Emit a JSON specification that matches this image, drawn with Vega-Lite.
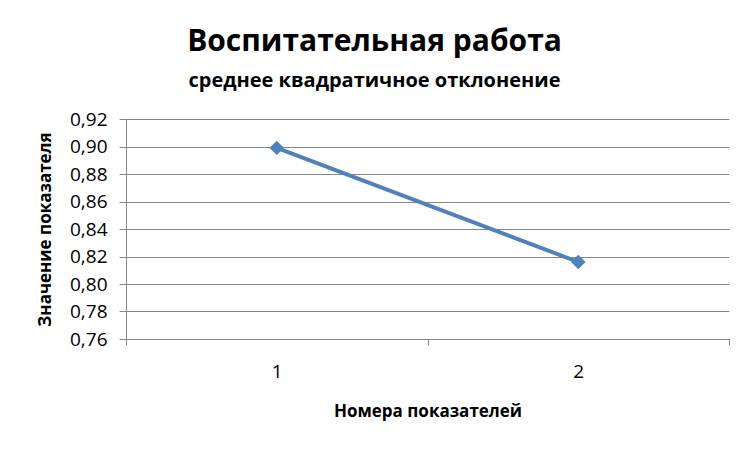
{
  "$schema": "https://vega.github.io/schema/vega-lite/v6.json",
  "width": 603,
  "height": 220,
  "autosize": "none",
  "padding": {"left": 126, "top": 119, "right": 24, "bottom": 112},
  "background": "white",
  "title": {
    "text": "Воспитательная работа",
    "subtitle": "среднее квадратичное отклонение",
    "anchor": "middle",
    "dx": -53,
    "offset": 19,
    "font": "Open Sans",
    "fontSize": 30,
    "fontWeight": "bold",
    "color": "#000000",
    "subtitleFont": "Open Sans",
    "subtitleFontSize": 20,
    "subtitleFontWeight": "bold",
    "subtitleColor": "#000000",
    "subtitlePadding": 14
  },
  "data": {"values": [{"n": 1, "v": 0.899}, {"n": 2, "v": 0.816}]},
  "mark": {
    "type": "line",
    "color": "#4F81BD",
    "strokeWidth": 4,
    "point": {"shape": "diamond", "filled": true, "size": 210, "color": "#4F81BD"}
  },
  "encoding": {
    "x": {
      "field": "n",
      "type": "quantitative",
      "scale": {"domain": [0.5, 2.5], "nice": false, "zero": false},
      "axis": {
        "title": "Номера показателей",
        "values": [0.5, 1, 1.5, 2, 2.5],
        "labelExpr": "datum.value % 1 === 0 ? datum.value : ''",
        "grid": false,
        "tickOpacity": {"condition": {"test": "datum.value % 1 === 0", "value": 0}, "value": 1},
        "tickSize": 6,
        "tickColor": "#868686",
        "domainColor": "#868686",
        "labelPadding": 17,
        "labelFont": "Open Sans",
        "labelFontSize": 19,
        "labelColor": "#000000",
        "titleFont": "Open Sans",
        "titleFontSize": 17,
        "titleFontWeight": "bold",
        "titleColor": "#000000",
        "titlePadding": 22
      }
    },
    "y": {
      "field": "v",
      "type": "quantitative",
      "scale": {"domain": [0.76, 0.92], "nice": false, "zero": false},
      "axis": {
        "title": "Значение показателя",
        "values": [0.76, 0.78, 0.8, 0.82, 0.84, 0.86, 0.88, 0.9, 0.92],
        "labelExpr": "replace(format(datum.value, '.2f'), '.', ',')",
        "grid": true,
        "gridColor": "#868686",
        "gridWidth": 1,
        "tickSize": 7,
        "tickColor": "#868686",
        "domainColor": "#868686",
        "labelPadding": 12,
        "labelFont": "Open Sans",
        "labelFontSize": 19,
        "labelColor": "#000000",
        "titleFont": "Open Sans",
        "titleFontSize": 17,
        "titleFontWeight": "bold",
        "titleColor": "#000000",
        "titlePadding": 15
      }
    }
  },
  "config": {"view": {"stroke": null}}
}
